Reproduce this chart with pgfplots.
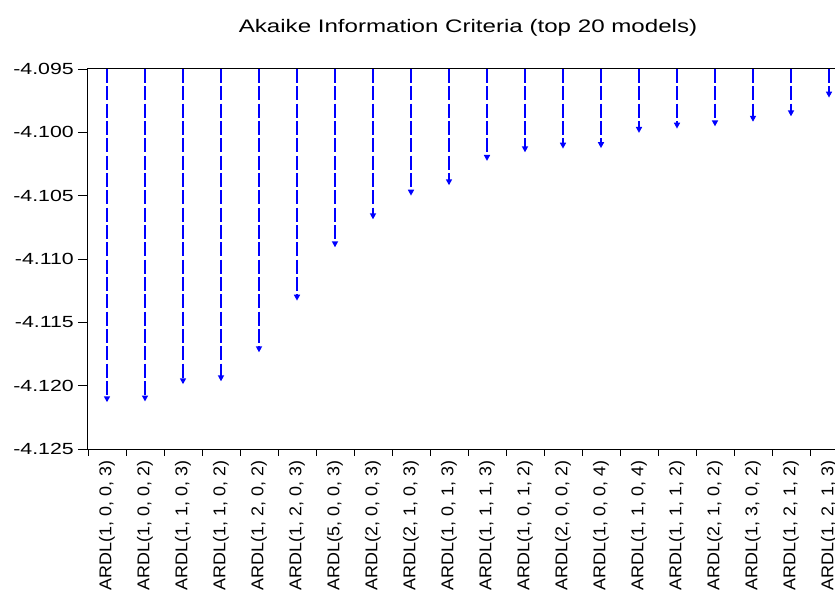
\documentclass[border=0pt]{standalone}
\usepackage{pgfplots}
\pgfplotsset{compat=1.18}
\usepackage{pgfplotstable}
\usetikzlibrary{arrows.meta}
\usepackage{fontspec}
\setmainfont{Liberation Sans}
\newfontfamily\titlefont[FakeStretch=1.33]{Liberation Sans}
\newfontfamily\yfont[FakeStretch=1.32]{Liberation Sans}
\newfontfamily\xfont[FakeStretch=1.05]{Liberation Sans}
\definecolor{stemblue}{RGB}{0,0,255}

\pgfplotstableread{
x aic
0  -4.12131
1  -4.12125
2  -4.11989
3  -4.11966
4  -4.11737
5  -4.11329
6  -4.10908
7  -4.10687
8  -4.10500
9  -4.10418
10 -4.10226
11 -4.10158
12 -4.10129
13 -4.10125
14 -4.10005
15 -4.09971
16 -4.09953
17 -4.09917
18 -4.09874
19 -4.09726
}\aictable

\begin{document}
\begin{tikzpicture}
\begin{axis}[
  name=ax,
  scale only axis,
  width=570pt, height=285pt,
  xmin=-0.5, xmax=19.5,
  ymin=-4.125, ymax=-4.095,
  ytick={-4.125,-4.120,-4.115,-4.110,-4.105,-4.100,-4.095},
  xtick={0,...,19},
  minor xtick={-0.5,0.5,...,19.5},
  xticklabels={{ARDL(1, 0, 0, 3)},{ARDL(1, 0, 0, 2)},{ARDL(1, 1, 0, 3)},{ARDL(1, 1, 0, 2)},{ARDL(1, 2, 0, 2)},{ARDL(1, 2, 0, 3)},{ARDL(5, 0, 0, 3)},{ARDL(2, 0, 0, 3)},{ARDL(2, 1, 0, 3)},{ARDL(1, 0, 1, 3)},{ARDL(1, 1, 1, 3)},{ARDL(1, 0, 1, 2)},{ARDL(2, 0, 0, 2)},{ARDL(1, 0, 0, 4)},{ARDL(1, 1, 0, 4)},{ARDL(1, 1, 1, 2)},{ARDL(2, 1, 0, 2)},{ARDL(1, 3, 0, 2)},{ARDL(1, 2, 1, 2)},{ARDL(1, 2, 1, 3)}},
  xtick pos=bottom, ytick pos=left,
  tick align=outside,
  major tick length=7.5pt,
  minor tick length=5.25pt,
  major x tick style={draw=none},
  tick style={black, line width=0.6pt},
  axis line style={black, line width=0.75pt},
  /pgf/number format/assume math mode=true,
  yticklabel style={font=\yfont\fontsize{12.1}{13}\selectfont, inner sep=1pt, xshift=-2pt,
     /pgf/number format/.cd, fixed, fixed zerofill, precision=3},
  xticklabel style={font=\xfont\fontsize{12.8}{14}\selectfont, rotate=90, anchor=east, inner sep=1pt},
  title={Akaike Information Criteria (top 20 models)},
  title style={font=\titlefont\fontsize{13.6}{16}\selectfont, at={(0.5,1)}, anchor=base, yshift=21.5pt, inner sep=0pt},
]
\addplot[stemblue, line width=1.3pt, dash pattern=on 10.5pt off 2.5pt,
  -{Triangle[width=4.5pt,length=4.5pt]},
  quiver={u=0, v={\thisrow{aic}+4.095}}]
  table[x=x, y expr=-4.095] {\aictable};
\end{axis}
\pgfresetboundingbox
\path (ax.south west) ++(-66pt,-105pt) rectangle ++(626.25pt,441.75pt);
\end{tikzpicture}
\end{document}
